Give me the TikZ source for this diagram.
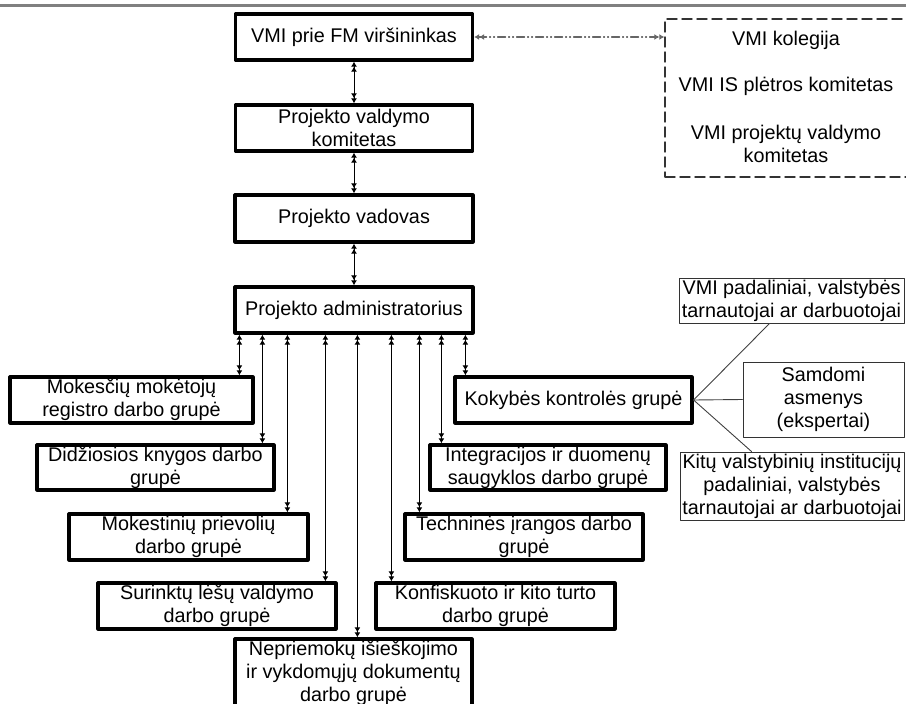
\documentclass[tikz,border=0pt]{standalone}
\usepackage{fontspec}
\setmainfont{Liberation Sans}
\usetikzlibrary{arrows.meta,calc,positioning}

\begin{document}
\begin{tikzpicture}[x=1pt,y=-1pt,line cap=round,line join=round,
  >={Latex[length=5pt,width=6pt]},
  font=\fontsize{19.8}{23}\selectfont,
  grpbox/.style={draw=black,line width=3.2pt,align=center,inner sep=0pt,
    minimum width=237pt,minimum height=46pt},
  sidebox/.style={draw=black!80,line width=1pt,align=center,inner sep=0pt},
  kombox/.style={draw=black!80,line width=1.4pt,dash pattern=on 10pt off 5pt,
    minimum width=242pt,minimum height=158pt,inner sep=0pt},
  biarrow/.style={<<->>,draw=black,line width=1pt},
  linkarrow/.style={<<->>,draw=black!60,line width=1.1pt,
    dash pattern=on 8pt off 3pt on 1pt off 3pt on 1pt off 3pt},
  joinline/.style={draw=black!75,line width=0.9pt}]
\useasboundingbox (0,0) rectangle (906,704);
\draw[gray,line width=3pt] (0,5) -- (906,5);

% vadovybe
\node[grpbox] (chief) at (354,37) {VMI prie FM viršininkas};
\node[grpbox] (pvk) at (354,128) {Projekto valdymo\\komitetas};
\node[grpbox,minimum width=238pt,minimum height=47pt] (vad) at (354,218.5) {Projekto vadovas};
\node[grpbox,minimum width=238pt] (adm) at (354,310) {Projekto administratorius};

% komitetai
\node[kombox] (kom) at (786,98) {};
\node (kol) at (786,40) {VMI kolegija};
\node (isp) at (786,86) {VMI IS plėtros komitetas};
\node[align=center] (pvkom) at (786,144) {VMI projektų valdymo\\komitetas};

% darbo grupes
\node[grpbox,minimum width=243pt] (mmr) at (131.5,400) {Mokesčių mokėtojų\\registro darbo grupė};
\node[grpbox,minimum height=45pt] (dkn) at (155.5,467.5) {Didžiosios knygos darbo\\grupė};
\node[grpbox,minimum width=239pt] (mpr) at (188.5,537) {Mokestinių prievolių\\darbo grupė};
\node[grpbox,minimum width=238pt] (slv) at (217,606) {Surinktų lėšų valdymo\\darbo grupė};
\node[grpbox,minimum height=68pt] (nep) at (353.5,673) {Nepriemokų išieškojimo\\ir vykdomųjų dokumentų\\darbo grupė};
\node[grpbox,minimum width=239pt] (kit) at (495.5,606) {Konfiskuoto ir kito turto\\darbo grupė};
\node[grpbox,minimum width=238pt] (tech) at (524,537) {Techninės įrangos darbo\\grupė};
\node[grpbox,minimum width=236pt,minimum height=45pt] (int) at (548,467.5) {Integracijos ir duomenų\\saugyklos darbo grupė};
\node[grpbox] (kok) at (573.5,400) {Kokybės kontrolės grupė};

% kokybes grupes nariai
\node[sidebox,minimum width=225pt,minimum height=45pt] (vmip) at (791.5,300.5) {VMI padaliniai, valstybės\\tarnautojai ar darbuotojai};
\node[sidebox,minimum width=161pt,minimum height=75pt] (sam) at (823.5,399.5) {Samdomi\\asmenys\\(ekspertai)};
\node[sidebox,minimum width=224pt,minimum height=68pt] (kitu) at (792,486) {Kitų valstybinių institucijų\\padaliniai, valstybės\\tarnautojai ar darbuotojai};

\draw[biarrow] (chief) -- (pvk);
\draw[biarrow] (pvk) -- (vad);
\draw[biarrow] (vad) -- (adm);
\draw[linkarrow] (chief.east) -- (chief.east -| kom.west);
\foreach \t/\s in {mmr/6,dkn/29,mpr/54,slv/92,nep/124,kit/158,tech/186,int/208,kok/232}
  \draw[biarrow] ([xshift=\s pt]adm.south west) coordinate (a\t) -- (a\t |- \t.north);
\draw[joinline] (kok.east) -- ([xshift=91pt]vmip.south west);
\draw[joinline] (kok.east) -- (sam.west);
\draw[joinline] (kok.east) -- ([xshift=72pt]kitu.north west);
%\draw[joinline] (kok.east) -- (kitu.north);
\end{tikzpicture}
\end{document}
